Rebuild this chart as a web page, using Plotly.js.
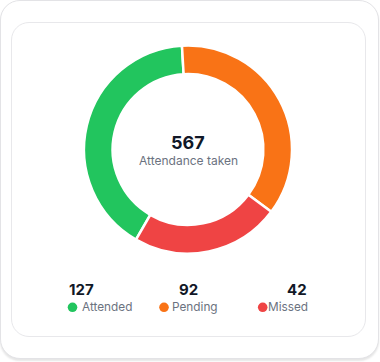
<!DOCTYPE html>
<html><head><meta charset="utf-8">
<script src="https://cdn.plot.ly/plotly-3.0.1.min.js"></script>
<style>
html,body{margin:0;padding:0;background:#fff;}
#wrap{position:relative;width:380px;height:362px;overflow:hidden;}
.outer{position:absolute;left:0;top:0;width:377px;height:357px;border:1px solid #e3e3e6;border-radius:20px;box-shadow:0 2px 2px rgba(0,0,0,0.10);background:#fff;}
.inner{position:absolute;left:11px;top:22px;width:353px;height:313px;border:1px solid #e8e8eb;border-radius:18px;background:#fff;}
#chart{position:absolute;left:0;top:0;width:380px;height:362px;}
</style></head>
<body><div id="wrap"><div class="outer"></div><div class="inner"></div><div id="chart"></div></div>
<script>
const categories = ['Attended', 'Pending', 'Missed'];
const counts = [127, 92, 42];
const sliceValues = [231, 205, 131];
const totalTaken = 567;
const centerLabel = 'Attendance taken';
const colors = ['#22c55e', '#f97316', '#ef4444'];

const W = 380, H = 362;
const fx = x => x / W;
const fy = y => 1 - y / H;
const FONT = 'Inter, "Noto Sans", sans-serif';

const cx = 188, cy = 149.5, R = 104;
const trace = {
  type: 'pie',
  labels: categories,
  values: sliceValues,
  sort: false,
  direction: 'clockwise',
  rotation: 210,
  hole: 0.725,
  textinfo: 'none',
  hoverinfo: 'none',
  marker: { colors: colors, line: { color: '#ffffff', width: 2.5 } },
  domain: { x: [fx(cx - R), fx(cx + R)], y: [fy(cy + R), fy(cy - R)] }
};

const annotations = [
  { x: fx(cx), y: fy(142.5), text: '<b>' + totalTaken + '</b>', font: { family: FONT, size: 18, color: '#111827' }, xanchor: 'center', yanchor: 'middle' },
  { x: fx(cx), y: fy(161), text: centerLabel, font: { family: FONT, size: 12, color: '#6b7280' }, xanchor: 'center', yanchor: 'middle' }
];
const colX = [68, 188, 308];
const colAnchor = ['left', 'center', 'right'];
const labelX = [80.5, 171, 308.5];
const labelAnchor = ['left', 'left', 'right'];
const dotX = [72.5, 164, 262.7];
const shapes = [];
categories.forEach((c, i) => {
  annotations.push({ x: fx(colX[i]), y: fy(289.5), text: '<b>' + counts[i] + '</b>', font: { family: FONT, size: 15, color: '#111827' }, xanchor: colAnchor[i], yanchor: 'middle' });
  annotations.push({ x: fx(labelX[i]), y: fy(307.3), text: c, font: { family: FONT, size: 11.8, color: '#6b7280' }, xanchor: labelAnchor[i], yanchor: 'middle' });
  const r = 4.8;
  shapes.push({ type: 'circle', xref: 'paper', yref: 'paper', x0: fx(dotX[i] - r), x1: fx(dotX[i] + r), y0: fy(307.3 + r), y1: fy(307.3 - r), fillcolor: colors[i], line: { width: 0 } });
});
annotations.forEach(a => { a.xref = 'paper'; a.yref = 'paper'; a.showarrow = false; a.borderpad = 0; });

const layout = {
  width: W, height: H,
  margin: { l: 0, r: 0, t: 0, b: 0 },
  paper_bgcolor: 'rgba(0,0,0,0)',
  plot_bgcolor: 'rgba(0,0,0,0)',
  showlegend: false,
  annotations: annotations,
  shapes: shapes
};
Plotly.newPlot('chart', [trace], layout, { staticPlot: true, displayModeBar: false });
</script>
</body></html>
